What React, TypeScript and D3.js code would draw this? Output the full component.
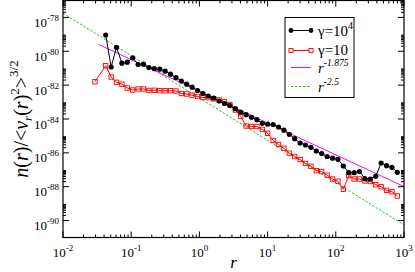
import React from "react";
import * as d3 from "d3";

// shared radial bins (geometric, step 1.2)
const radius = [
  0.0423, 0.0508, 0.0609, 0.0731, 0.0877, 0.1053, 0.1263, 0.1516, 0.1819, 0.2183,
  0.262, 0.3143, 0.3772, 0.4527, 0.5432, 0.6518, 0.7822, 0.9386, 1.126, 1.352,
  1.622, 1.946, 2.336, 2.803, 3.363, 4.036, 4.843, 5.812, 6.974, 8.369,
  10.04, 12.05, 14.46, 17.35, 20.82, 24.99, 29.99, 35.98, 43.18, 51.82,
  62.18, 74.61, 89.54, 107.4, 128.9, 154.7, 185.7, 222.8, 267.4, 320.8,
  385.0, 462.0, 554.4, 665.3, 798.3,
];

// gamma = 10^4
const highN = [
  9.16e-80, 1.18e-81, 1.72e-80, 1.98e-81, 2.27e-81, 4.12e-81, 1.66e-81, 1.73e-81, 1.1e-81, 9.38e-82,
  8.75e-82, 6.67e-82, 4.44e-82, 2.83e-82, 1.76e-82, 1.14e-82, 7.57e-83, 4.83e-83, 3.21e-83, 2.29e-83,
  1.74e-83, 1.16e-83, 8.24e-84, 6.28e-84, 4.06e-84, 2.52e-84, 1.8e-84, 1.26e-84, 9.1e-85, 5.57e-85,
  4.93e-85, 4.74e-85, 3.37e-85, 2.18e-85, 1.25e-85, 6.87e-86, 3.83e-86, 2.92e-86, 2.13e-86, 1.29e-86,
  9.18e-87, 6.11e-87, 4.84e-87, 4.17e-87, 1.67e-87, 6.75e-88, 6.75e-88, 7.94e-88, 2.98e-88, 2.86e-88,
  4.13e-88, 2.52e-87, 1.75e-87, 1.4e-87, 7.11e-88,
];

// gamma = 10 (one extra inner bin)
const lowR = [0.0294, ...radius];
const lowN = [
  1.6e-82,
  1.41e-81, 3.03e-82, 1.47e-82, 1.14e-82, 6.79e-83, 5.18e-83, 5.93e-83, 5.93e-83, 4.83e-83, 4.97e-83,
  4.7e-83, 4.7e-83, 4.7e-83, 4.51e-83, 3.21e-83, 3.0e-83, 2.55e-83, 2.14e-83, 1.86e-83, 1.82e-83,
  1.56e-83, 1.33e-83, 1.04e-83, 7.19e-84, 3.4e-84, 1.41e-84, 3.86e-85, 3.61e-85, 3.61e-85, 2.4e-85,
  1.43e-85, 5.38e-86, 3.12e-86, 1.86e-86, 9.55e-87, 6.11e-87, 4.06e-87, 2.36e-87, 1.61e-87, 8.85e-88,
  7.94e-88, 4.8e-88, 2.86e-88, 2.12e-88, 7.05e-89, 4.48e-88, 2.86e-88, 2.86e-88, 2.18e-88, 2.04e-88,
  1.32e-88, 9.91e-89, 6.15e-89, 5.08e-89, 2.84e-89,
];

// power-law guides: amplitude, exponent, r range
const fitA = { amp: 4.3e-83, exp: -1.875, from: 0.033, to: 1000 };
const fitB = { amp: 1.75e-83, exp: -2.5, from: 0.01, to: 1000 };

const xDecades = [-2, -1, 0, 1, 2, 3];
const yDecades = [-90, -88, -86, -84, -82, -80, -78];

const W = 415;
const H = 272;
const L = 63, R = 404, T = 0.5, B = 237.5;
const FONT = "'Liberation Serif', 'DejaVu Serif', serif";
const GREEN = "#2fbf2f";

export default function App() {
  const x = d3.scaleLog().domain([1e-2, 1e3]).range([L, R]);
  const y = d3.scaleLog().domain([1e-77, 1e-91]).range([T, B]);

  const line = d3
    .line<[number, number]>()
    .x((d) => x(d[0]))
    .y((d) => y(d[1]));

  const high = radius.map((r, i) => [r, highN[i]] as [number, number]);
  const low = lowR.map((r, i) => [r, lowN[i]] as [number, number]);
  const guide = (g: typeof fitA) =>
    [g.from, g.to].map((r) => [r, g.amp * Math.pow(r, g.exp)] as [number, number]);

  // ticks
  const xMinor: number[] = [];
  xDecades.slice(0, -1).forEach((e) => {
    for (let k = 2; k <= 9; k++) xMinor.push(k * Math.pow(10, e));
  });
  const yMinor: number[] = [];
  yDecades.forEach((e) => {
    for (let k = 2; k <= 9; k++) yMinor.push(k * Math.pow(10, e));
  });

  const lg = { x0: 291, x1: 311, tx: 318 };

  return (
    <svg
      width={W}
      height={H}
      style={{ position: "absolute", left: 0, top: 0, background: "#fff" }}
      fontFamily={FONT}
    >
      <rect width={W} height={H} fill="#fff" />

      {/* guides */}
      <path d={line(guide(fitB)) || ""} fill="none" stroke={GREEN} strokeWidth={1} strokeDasharray="2.5,1.5" />
      <path d={line(guide(fitA)) || ""} fill="none" stroke="#ff00ff" strokeWidth={1} />

      {/* gamma = 10 */}
      <path d={line(low) || ""} fill="none" stroke="#ff0000" strokeWidth={1} />
      {low.map((d, i) => (
        <rect key={"l" + i} x={x(d[0]) - 2.2} y={y(d[1]) - 2.2} width={4.4} height={4.4}
          fill="none" stroke="#ff0000" strokeWidth={0.9} />
      ))}

      {/* gamma = 10^4 */}
      <path d={line(high) || ""} fill="none" stroke="#000" strokeWidth={1} />
      {high.map((d, i) => (
        <circle key={"h" + i} cx={x(d[0])} cy={y(d[1])} r={2.6} fill="#000" />
      ))}

      {/* frame */}
      <rect x={L} y={T} width={R - L} height={B - T} fill="none" stroke="#000" strokeWidth={1.2} />

      {/* x ticks */}
      {xDecades.map((e) => {
        const px = x(Math.pow(10, e));
        return (
          <g key={"xt" + e}>
            <line x1={px} x2={px} y1={B} y2={B - 6} stroke="#000" />
            <line x1={px} x2={px} y1={T} y2={T + 6} stroke="#000" />
            <text x={px} y={257} fontSize={13} textAnchor="middle">
              10<tspan dy={-6} fontSize={9}>{e}</tspan>
            </text>
          </g>
        );
      })}
      {xMinor.map((v, i) => {
        const px = x(v);
        return (
          <g key={"xm" + i}>
            <line x1={px} x2={px} y1={B} y2={B - 3} stroke="#000" />
            <line x1={px} x2={px} y1={T} y2={T + 3} stroke="#000" />
          </g>
        );
      })}

      {/* y ticks */}
      {yDecades.map((e) => {
        const py = y(Math.pow(10, e));
        return (
          <g key={"yt" + e}>
            <line x1={L} x2={L + 6} y1={py} y2={py} stroke="#000" />
            <line x1={R} x2={R - 6} y1={py} y2={py} stroke="#000" />
            <text x={59} y={py + 9.5} fontSize={13} textAnchor="end">
              10<tspan dy={-6} fontSize={9}>{e}</tspan>
            </text>
          </g>
        );
      })}
      {yMinor.map((v, i) => {
        const py = y(v);
        return (
          <g key={"ym" + i}>
            <line x1={L} x2={L + 3} y1={py} y2={py} stroke="#000" />
            <line x1={R} x2={R - 3} y1={py} y2={py} stroke="#000" />
          </g>
        );
      })}

      {/* axis titles */}
      <text x={(L + R) / 2} y={268} fontSize={17} fontStyle="italic" textAnchor="middle">r</text>
      <text transform={`translate(28,${(T + B) / 2}) rotate(-90)`} fontSize={20} textAnchor="middle">
        <tspan fontStyle="italic">n</tspan>(<tspan fontStyle="italic">r</tspan>)/&lt;
        <tspan fontStyle="italic">v</tspan>
        <tspan fontStyle="italic" fontSize={13} dy={4}>r</tspan>
        <tspan dy={-4}>(</tspan><tspan fontStyle="italic">r</tspan>)
        <tspan fontSize={13} dy={-9}>2</tspan>
        <tspan dy={9}>&gt;</tspan>
        <tspan fontSize={13} dy={-10}>3/2</tspan>
      </text>

      {/* legend */}
      <rect x={285} y={17.5} width={69} height={80} fill="#fff" stroke="#000" strokeWidth={1} />
      <line x1={lg.x0} x2={lg.x1} y1={30.5} y2={30.5} stroke="#000" />
      <circle cx={lg.x0} cy={30.5} r={2.4} fill="#000" />
      <circle cx={lg.x1} cy={30.5} r={2.4} fill="#000" />
      <text x={lg.tx} y={36} fontSize={15}>
        γ=10<tspan dy={-7} fontSize={10}>4</tspan>
      </text>
      <line x1={lg.x0} x2={lg.x1} y1={50.5} y2={50.5} stroke="#ff0000" />
      <rect x={lg.x0 - 2} y={48.5} width={4} height={4} fill="#fff" stroke="#ff0000" strokeWidth={0.9} />
      <rect x={lg.x1 - 2} y={48.5} width={4} height={4} fill="#fff" stroke="#ff0000" strokeWidth={0.9} />
      <text x={lg.tx} y={55} fontSize={15}>γ=10</text>
      <line x1={lg.x0} x2={lg.x1} y1={67.5} y2={67.5} stroke="#ff00ff" />
      <text x={lg.tx} y={73} fontSize={15} fontStyle="italic">
        r<tspan dy={-7} fontSize={9.5}>-1.875</tspan>
      </text>
      <line x1={lg.x0} x2={lg.x1} y1={86.5} y2={86.5} stroke={GREEN} strokeDasharray="2.5,1.5" />
      <text x={lg.tx} y={92} fontSize={15} fontStyle="italic">
        r<tspan dy={-7} fontSize={9.5}>-2.5</tspan>
      </text>
    </svg>
  );
}
